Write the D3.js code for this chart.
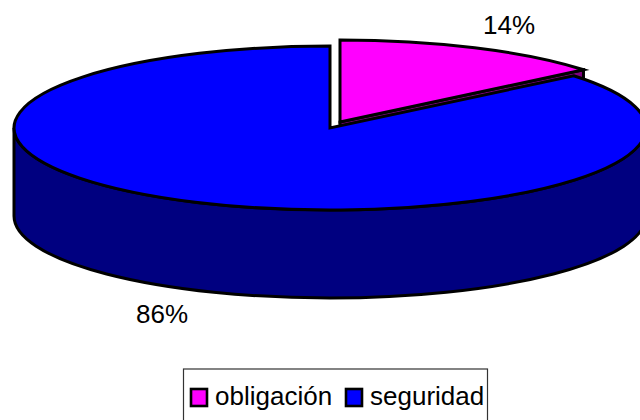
<!DOCTYPE html>
<html><head><meta charset="utf-8">
<script src="https://cdn.jsdelivr.net/npm/d3@7"></script>
<style>html,body{margin:0;padding:0;background:#fff}svg{display:block}</style></head>
<body><svg id="c" width="640" height="420"></svg>
<script>
const categories = ["obligación", "seguridad"];
const values = [14, 86];
const labels = ["14%", "86%"];
const topColors = ["#ff00ff", "#0000ff"];
const sideColors = ["#800080", "#000080"];
const explode = [[340, 122], [330, 128]];

const rx = 316, ry = 82, depth = 88;
const sw = 3;
const svg = d3.select("#c");
const pie = d3.pie().sort(null).value(d => d)(values);
const arcGen = d3.arc().innerRadius(0).outerRadius(1);
const pt = (a, c, dy = 0) => [c[0] + rx * Math.sin(a), c[1] - ry * Math.cos(a) + dy];

function drawTop(i) {
  const c = explode[i];
  svg.append("path")
    .attr("d", arcGen(pie[i]))
    .attr("transform", `translate(${c[0]},${c[1]}) scale(${rx},${ry})`)
    .attr("vector-effect", "non-scaling-stroke")
    .attr("fill", topColors[i]).attr("stroke", "#000").attr("stroke-width", sw)
    .attr("stroke-linejoin", "miter");
}

// back slice: extruded cut face, sits behind the large slice
const a1 = pie[0].endAngle, c0 = explode[0];
const p0 = pt(a1, c0), p1 = pt(a1, c0, depth);
svg.append("path")
  .attr("d", `M${c0}L${p0}L${p1}L${c0[0]},${c0[1] + depth}Z`)
  .attr("fill", sideColors[0]).attr("stroke", "#000").attr("stroke-width", sw);
drawTop(0);

// large slice: wall along the front of the ellipse
const c1 = explode[1];
svg.append("path")
  .attr("d", `M${c1[0] - rx},${c1[1]}L${c1[0] - rx},${c1[1] + depth}` +
             `A${rx},${ry} 0 0 0 ${c1[0] + rx},${c1[1] + depth}L${c1[0] + rx},${c1[1]}` +
             `A${rx},${ry} 0 0 1 ${c1[0] - rx},${c1[1]}Z`)
  .attr("fill", sideColors[1]).attr("stroke", "#000").attr("stroke-width", sw);
drawTop(1);

const font = "'Liberation Sans', Arial, sans-serif";
const labelPos = [[509, 34], [162, 323]];
svg.selectAll("text.pct").data(labels).join("text").attr("class", "pct")
  .attr("x", (d, i) => labelPos[i][0]).attr("y", (d, i) => labelPos[i][1])
  .attr("text-anchor", "middle").attr("font-family", font).attr("font-size", 26).attr("fill", "#000")
  .text(d => d);

// legend
svg.append("rect").attr("x", 183.5).attr("y", 369).attr("width", 304).attr("height", 60)
  .attr("fill", "#fff").attr("stroke", "#333").attr("stroke-width", 1.2);
const keyX = [191, 346], textX = [215, 370];
categories.forEach((d, i) => {
  svg.append("rect").attr("x", keyX[i]).attr("y", 389).attr("width", 16).attr("height", 17)
    .attr("fill", topColors[i]).attr("stroke", "#000").attr("stroke-width", 2.6);
  svg.append("text").attr("x", textX[i]).attr("y", 405)
    .attr("font-family", font).attr("font-size", 26).attr("fill", "#000").text(d);
});
</script></body></html>
